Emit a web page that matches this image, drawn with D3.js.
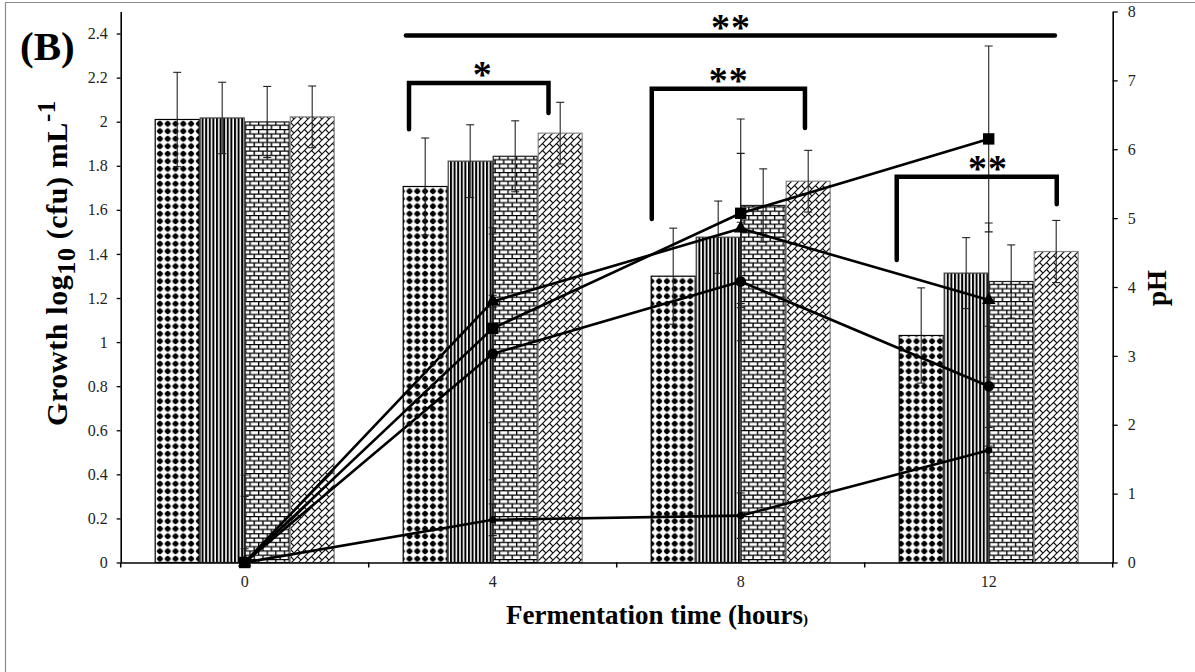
<!DOCTYPE html>
<html><head><meta charset="utf-8">
<script src="https://cdn.jsdelivr.net/npm/d3@7"></script>
<style>body{margin:0;background:#fff} svg{display:block}</style>
</head><body><svg id="chart" width="1195" height="672"></svg>
<script>
// ---------- data ----------
const categories = ["0", "4", "8", "12"];
const seriesNames = ["dots", "vertical", "brick", "diagbrick"];
const growthDots     = [2.010, 1.706, 1.299, 1.030];
const growthVertical = [2.017, 1.821, 1.476, 1.313];
const growthBrick    = [1.999, 1.843, 1.620, 1.275];
const growthDiag     = [2.022, 1.948, 1.730, 1.411];
const errDots     = [0.214, 0.220, 0.218, 0.216];
const errVertical = [0.162, 0.165, 0.164, 0.161];
const errBrick    = [0.161, 0.161, 0.166, 0.166];
const errDiag     = [0.140, 0.140, 0.140, 0.141];
const phSquare   = [0, 3.40, 5.07, 6.15];
const phTriangle = [0, 3.79, 4.85, 3.81];
const phCircle   = [0, 3.03, 4.08, 2.56];
const phSmall    = [0, 0.62, 0.68, 1.63];
const errPhSquare   = [1.27, 1.37, 1.37, 1.35];
const errPhTriangle = [0.20, 0.09, 1.09, 1.12];
const errPhCircle   = [0.96, 1.83, 0.86, 0.87];
const errPhSmall    = [0.00, 0.23, 0.33, 0.33];
const growthTicks = [0, 0.2, 0.4, 0.6, 0.8, 1, 1.2, 1.4, 1.6, 1.8, 2, 2.2, 2.4];
const phTicks = [0, 1, 2, 3, 4, 5, 6, 7, 8];
// significance annotations (category + fraction of bar group, growth units)
const sigLabels = ["**", "*", "**", "**"];
const sigFromCat = ["4", "4", "8", "12"];
const sigFromFrac = [0.018, 0.035, 0.006, -0.011];
const sigToCat = ["12", "4", "8", "12"];
const sigToFrac = [0.868, 0.81, 0.857, 0.878];
const sigTop = [2.391, 2.176, 2.150, 1.750];
const sigLeftEnd = [null, 1.966, 1.559, 1.372];
const sigRightEnd = [null, 2.040, 1.971, 1.625];
const sigLabelShift = [0, 0.02, 0, 0.06];

// ---------- layout ----------
const svg = d3.select("#chart");
const plot = {left: 120.7, right: 1112.7, top: 11.5, bottom: 562.5};
const serif = "'Liberation Serif','Times New Roman',serif";

const x0 = d3.scaleBand().domain(categories).range([plot.left, plot.right])
  .paddingInner(68 / 248).paddingOuter(34 / 248);
const x1 = d3.scaleBand().domain(seriesNames).range([0, x0.bandwidth()]);
const y = d3.scaleLinear().domain([0, 2.5]).range([plot.bottom, plot.top]);
const yPh = d3.scaleLinear().domain([0, 8]).range([plot.bottom, plot.top]);
const xc = c => x0(c) + x0.bandwidth() / 2;

// ---------- frame ----------
svg.append("line").attr("x1", 5.5).attr("x2", 5.5).attr("y1", 2.5).attr("y2", 672)
  .attr("stroke", "#8c8c8c").attr("stroke-width", 1.2);
svg.append("line").attr("x1", 5).attr("x2", 1195).attr("y1", 2.5).attr("y2", 2.5)
  .attr("stroke", "#8c8c8c").attr("stroke-width", 1.2);

// ---------- patterns ----------
const defs = svg.append("defs");
// dots
let p = defs.append("pattern").attr("id", "pDots").attr("patternUnits", "userSpaceOnUse")
  .attr("width", 7.8).attr("height", 7.5);
p.append("rect").attr("width", 7.8).attr("height", 7.5).attr("fill", "#fff");
p.append("path").attr("d", "M3.9,0.4 L7.3,3.75 L3.9,7.1 L0.5,3.75 Z").attr("fill", "#000");
p.append("circle").attr("cx", 3.9).attr("cy", 3.75).attr("r", 2.6).attr("fill", "#000");
// vertical lines
p = defs.append("pattern").attr("id", "pVert").attr("patternUnits", "userSpaceOnUse")
  .attr("width", 3.6).attr("height", 10);
p.append("rect").attr("width", 3.6).attr("height", 10).attr("fill", "#fff");
p.append("rect").attr("x", 0).attr("width", 2.0).attr("height", 10).attr("fill", "#000");
// brick
p = defs.append("pattern").attr("id", "pBrick").attr("patternUnits", "userSpaceOnUse")
  .attr("width", 8.6).attr("height", 8.6);
p.append("rect").attr("width", 8.6).attr("height", 8.6).attr("fill", "#fff");
p.append("path").attr("d", "M0,0.6 H8.6 M0,4.9 H8.6 M0.6,0.6 V4.9 M4.9,4.9 V8.6")
  .attr("stroke", "#000").attr("stroke-width", 1.4).attr("fill", "none");
// diagonal brick
p = defs.append("pattern").attr("id", "pDiag").attr("patternUnits", "userSpaceOnUse")
  .attr("width", 7).attr("height", 7);
p.append("rect").attr("width", 7).attr("height", 7).attr("fill", "#fff");
p.append("path").attr("d", "M0,7 L7,0 M-1,1 L1,-1 M6,8 L8,6 M3.5,3.5 L7,7")
  .attr("stroke", "#111").attr("stroke-width", 1.2).attr("fill", "none");

defs.append("clipPath").attr("id", "plotClip").append("rect")
  .attr("x", plot.left).attr("y", plot.top).attr("width", plot.right - plot.left)
  .attr("height", plot.bottom - plot.top);

// ---------- bars ----------
const growthSeries = [
  {name: "dots", values: growthDots, err: errDots, fill: "url(#pDots)", stroke: "#000"},
  {name: "vertical", values: growthVertical, err: errVertical, fill: "url(#pVert)", stroke: "#444"},
  {name: "brick", values: growthBrick, err: errBrick, fill: "url(#pBrick)", stroke: "#222"},
  {name: "diagbrick", values: growthDiag, err: errDiag, fill: "url(#pDiag)", stroke: "#888"}
];
const barData = [];
growthSeries.forEach(s => categories.forEach((c, i) =>
  barData.push({s, c, v: s.values[i], e: s.err[i]})));

const gBars = svg.append("g");
gBars.selectAll("rect").data(barData).join("rect")
  .attr("x", d => x0(d.c) + x1(d.s.name) + 0.5)
  .attr("y", d => y(d.v))
  .attr("width", x1.bandwidth() - 1)
  .attr("height", d => y(0) - y(d.v))
  .attr("fill", d => d.s.fill)
  .attr("stroke", d => d.s.stroke).attr("stroke-width", 1.2);

const gErr = svg.append("g").attr("stroke", "#222").attr("stroke-width", 1.1);
barData.forEach(d => {
  const cx = x0(d.c) + x1(d.s.name) + x1.bandwidth() / 2;
  gErr.append("line").attr("x1", cx).attr("x2", cx).attr("y1", y(d.v + d.e)).attr("y2", y(d.v - d.e));
  gErr.append("line").attr("x1", cx - 4).attr("x2", cx + 4).attr("y1", y(d.v + d.e)).attr("y2", y(d.v + d.e));
  gErr.append("line").attr("x1", cx - 4).attr("x2", cx + 4).attr("y1", y(d.v - d.e)).attr("y2", y(d.v - d.e));
});

// ---------- axes ----------
const axisLeft = d3.axisLeft(y).tickValues(growthTicks).tickSize(4).tickPadding(9).tickSizeOuter(0)
  .tickFormat(d => String(+d.toFixed(1)));
const gL = svg.append("g").attr("transform", `translate(${plot.left},0)`).call(axisLeft);
const axisRight = d3.axisRight(yPh).tickValues(phTicks).tickSize(5).tickPadding(10).tickSizeOuter(0);
const gR = svg.append("g").attr("transform", `translate(${plot.right},0)`).call(axisRight);
const axisBottom = d3.axisBottom(x0).tickSize(0).tickPadding(13.5).tickSizeOuter(0);
const gB = svg.append("g").attr("transform", `translate(0,${plot.bottom})`).call(axisBottom);
// boundary ticks of the category axis
const bounds = d3.range(categories.length + 1).map(i => plot.left + i * x0.step());
gB.selectAll(".btick").data(bounds).join("line").attr("class", "btick")
  .attr("x1", d => d).attr("x2", d => d).attr("y1", 0).attr("y2", 5)
  .attr("stroke", "#000").attr("stroke-width", 1.5);

[gL, gR, gB].forEach(g => {
  g.select(".domain").attr("stroke", "#000").attr("stroke-width", 1.6);
  g.selectAll(".tick line").attr("stroke", "#000").attr("stroke-width", 1.3);
  g.selectAll("text").attr("font-family", serif).attr("font-size", 16).attr("fill", "#222");
});

// ---------- pH lines ----------
const phSeries = [
  {values: phCircle, err: errPhCircle, marker: "circle"},
  {values: phSmall, err: errPhSmall, marker: "small"},
  {values: phTriangle, err: errPhTriangle, marker: "triangle"},
  {values: phSquare, err: errPhSquare, marker: "square"}
];
const gPhErr = svg.append("g").attr("clip-path", "url(#plotClip)").attr("stroke", "#222").attr("stroke-width", 1.1);
phSeries.forEach(s => categories.forEach((c, i) => {
  if (!s.err[i]) return;
  const cx = xc(c), hi = yPh(s.values[i] + s.err[i]), lo = yPh(s.values[i] - s.err[i]);
  gPhErr.append("line").attr("x1", cx).attr("x2", cx).attr("y1", hi).attr("y2", lo);
  gPhErr.append("line").attr("x1", cx - 4).attr("x2", cx + 4).attr("y1", hi).attr("y2", hi);
  gPhErr.append("line").attr("x1", cx - 4).attr("x2", cx + 4).attr("y1", lo).attr("y2", lo);
}));
const line = d3.line().x((d, i) => xc(categories[i])).y(d => yPh(d));
const gLines = svg.append("g");
phSeries.forEach(s => {
  gLines.append("path").attr("d", line(s.values)).attr("fill", "none")
    .attr("stroke", "#000").attr("stroke-width", 2.6).attr("stroke-linejoin", "round");
});
const sym = {
  circle: d3.symbol().type(d3.symbolCircle).size(90),
  small: d3.symbol().type(d3.symbolCircle).size(40),
  triangle: d3.symbol().type(d3.symbolTriangle).size(80),
  square: d3.symbol().type(d3.symbolSquare).size(130)
};
phSeries.forEach(s => {
  gLines.selectAll(null).data(s.values).join("path")
    .attr("transform", (d, i) => `translate(${xc(categories[i])},${yPh(d)})`)
    .attr("d", sym[s.marker]()).attr("fill", "#000");
});

// ---------- significance brackets ----------
const gSig = svg.append("g");
sigLabels.forEach((lab, k) => {
  const xa = x0(sigFromCat[k]) + sigFromFrac[k] * x0.bandwidth();
  const xb = x0(sigToCat[k]) + sigToFrac[k] * x0.bandwidth();
  const yt = y(sigTop[k]);
  let d = `M${xa},${yt} L${xb},${yt}`;
  if (sigLeftEnd[k] !== null) d = `M${xa},${y(sigLeftEnd[k])} L${xa},${yt} L${xb},${yt} L${xb},${y(sigRightEnd[k])}`;
  gSig.append("path").attr("d", d).attr("fill", "none").attr("stroke", "#000")
    .attr("stroke-width", 4.5).attr("stroke-linecap", "round").attr("stroke-linejoin", "miter");
  const mid = (xa + xb) / 2 + sigLabelShift[k] * x0.bandwidth();
  const n = lab.length;
  for (let j = 0; j < n; j++) {
    gSig.append("text").attr("x", mid + (j - (n - 1) / 2) * 20).attr("y", yt - 13 + 17.5)
      .attr("text-anchor", "middle").attr("font-family", serif).attr("font-weight", "bold")
      .attr("font-size", 38).attr("fill", "#000").text("*");
  }
});

// ---------- titles ----------
svg.append("text").attr("x", 20).attr("y", 60).attr("font-family", serif).attr("font-weight", "bold")
  .attr("font-size", 41).attr("fill", "#000").text("(B)");

const yt = svg.append("text").attr("transform", "translate(67,263) rotate(-90)")
  .attr("text-anchor", "middle").attr("font-family", serif).attr("font-weight", "bold")
  .attr("font-size", 30).attr("letter-spacing", 0.6).attr("fill", "#000");
yt.append("tspan").text("Growth log");
yt.append("tspan").attr("dy", 8).attr("font-size", 26).text("10");
yt.append("tspan").attr("dy", -8).text(" (cfu) mL");
yt.append("tspan").attr("dy", -12).attr("font-size", 25).text("-1");

svg.append("text").attr("transform", "translate(1166,288) rotate(-90)")
  .attr("text-anchor", "middle").attr("font-family", serif).attr("font-weight", "bold")
  .attr("font-size", 27).attr("fill", "#000").text("pH");

const xt = svg.append("text").attr("x", 657).attr("y", 624).attr("text-anchor", "middle")
  .attr("font-family", serif).attr("font-weight", "bold").attr("font-size", 27).attr("fill", "#000");
xt.append("tspan").text("Fermentation time (hours");
xt.append("tspan").attr("font-size", 15).text(")");
</script></body></html>
